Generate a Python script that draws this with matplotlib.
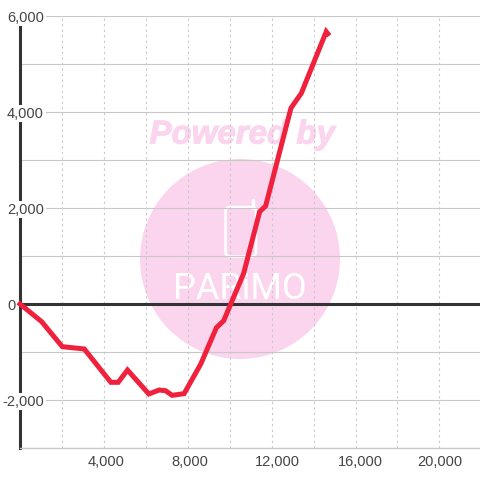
import matplotlib
matplotlib.use("Agg")
import matplotlib.pyplot as plt
import matplotlib.patheffects as pe
from matplotlib.lines import Line2D
from matplotlib.patches import Ellipse, FancyBboxPatch
from matplotlib.transforms import ScaledTranslation

plt.rcParams['font.family'] = ['Liberation Sans', 'DejaVu Sans']

trade_x = [0, 1033, 2017, 3063, 4333, 4683, 5127, 6143, 6635, 6938, 7254, 7825,
           8620, 9365, 9714, 10667, 11428, 11714, 12923, 13414, 14603, 14680]
profit = [0, -368, -889, -937, -1632, -1632, -1375, -1875, -1792, -1806, -1903, -1868,
          -1250, -494, -348, 640, 1923, 2042, 4083, 4390, 5673, 5630]
x_ticks = list(range(2000, 22000, 2000))
x_labels = ['', '4,000', '', '8,000', '', '12,000', '', '16,000', '', '20,000']
y_grid = list(range(-3000, 7000, 1000))
y_labels = ['', '-2,000', '', '0', '', '2,000', '', '4,000', '', '6,000']

W = 480
fig = plt.figure(figsize=(4.8, 4.8), dpi=100, facecolor='white')
ax = fig.add_axes([20 / W, 32 / W, 460 / W, 432 / W], facecolor='none')

PINK = '#fbd5ed'
fig.add_artist(Ellipse((240 / W, 1 - 259 / W), 200 / W, 200 / W, transform=fig.transFigure,
                       facecolor=PINK, edgecolor='none', zorder=-3))
fig.add_artist(FancyBboxPatch((225.5 / W, 1 - 256.5 / W), 30.5 / W, 49.5 / W,
                              boxstyle='round,pad=0,rounding_size=0.01',
                              transform=fig.transFigure, facecolor='none',
                              edgecolor='white', linewidth=1.8, zorder=-2))
fig.add_artist(Line2D([253 / W, 253 / W], [1 - 208 / W, 1 - 200 / W], transform=fig.transFigure,
                      color='white', lw=2.4, solid_capstyle='round', zorder=-2))
fig.text(242 / W, 1 - 135 / W, 'Powered by', color=PINK, fontsize=23.8, fontweight='bold',
         fontstyle='italic', ha='center', va='center', zorder=-2,
         path_effects=[pe.withStroke(linewidth=0.8, foreground=PINK)])
fig.text(240 / W, 1 - 289 / W, 'PARiMO', color='white', fontsize=26, family='Roboto',
         ha='center', va='center', zorder=-2)

ax.set_xlim(0, 21936)
ax.set_ylim(-3000, 6000)
ax.set_axisbelow(False)

ax.hlines(y_grid, 0, 21936, color='#c8c8c8', lw=0.8, zorder=1)
ax.vlines(x_ticks, -3000, 6000, color='#c8c8c8', lw=0.8, linestyles=(0, (2, 3)), zorder=1)
ax.axhline(0, color='#333333', lw=2.2, zorder=3)
ax.plot(trade_x, profit, color='#f0213c', lw=3.6, zorder=4, solid_joinstyle='miter',
        solid_capstyle='projecting', clip_on=False)

ax.set_xticks(x_ticks, x_labels)
ax.set_yticks(y_grid, y_labels)
ax.tick_params(axis='both', length=0, labelsize=10.55, labelcolor='#444444')
ax.tick_params(axis='y', pad=-17.2)
ax.tick_params(axis='x', pad=5)
ax.yaxis.set_zorder(5)
ax.xaxis.set_zorder(5)
for tick, val in zip(ax.yaxis.get_major_ticks(), y_grid):
    if val == 0:
        tick.set_pad(3)
    elif val % 2000 == 0:
        tick.label1.set_bbox(dict(facecolor='white', edgecolor='none', pad=1.2))

label_nudge_px = {4000: 2, 8000: 2, 12000: 6, 16000: 5}
for tick, val in zip(ax.xaxis.get_major_ticks(), x_ticks):
    if val in label_nudge_px:
        lab = tick.label1
        lab.set_transform(lab.get_transform()
                          + ScaledTranslation(label_nudge_px[val] / 100, 0, fig.dpi_scale_trans))

for s in ('top', 'right'):
    ax.spines[s].set_visible(False)
ax.spines['bottom'].set_color('#c8c8c8')
ax.spines['bottom'].set_linewidth(1)
ax.spines['left'].set_color('#333333')
ax.spines['left'].set_linewidth(2.2)

fig.savefig('out.png', dpi=100, facecolor='white')
